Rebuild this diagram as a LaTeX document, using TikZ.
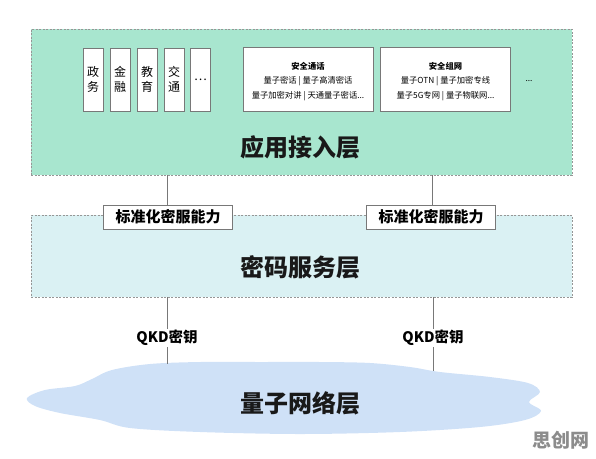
\documentclass[tikz,border=0pt]{standalone}
\usepackage{fontspec}
\setmainfont{Noto Sans CJK SC}
\definecolor{appgreen}{RGB}{168,230,207}
\definecolor{svcblue}{RGB}{218,241,243}
\definecolor{cloudblue}{RGB}{207,225,247}
\definecolor{edgegray}{RGB}{150,150,150}
\definecolor{linegray}{RGB}{120,120,120}
\begin{document}
\begin{tikzpicture}[x=1pt,y=-1pt,
  layer/.style={draw=edgegray, dash pattern=on 2pt off 1.5pt, line width=0.5pt, minimum width=541pt, inner sep=0pt},
  title/.style={font=\fontsize{24}{26}\selectfont\bfseries, text=black!90},
  vbox/.style={draw=linegray, fill=white, line width=0.6pt, minimum width=20pt, minimum height=63pt, inner sep=0pt, font=\fontsize{12}{15}\selectfont, align=center},
  sbox/.style={draw=linegray, fill=white, line width=0.6pt, minimum width=130pt, minimum height=64pt, inner sep=0pt},
  small/.style={font=\fontsize{8.3}{10}\selectfont, inner sep=0pt},
  smallb/.style={font=\fontsize{8.3}{10}\selectfont\bfseries, inner sep=0pt},
  lab/.style={draw=linegray, fill=white, line width=0.6pt, minimum width=129pt, minimum height=24pt, inner sep=0pt, font=\fontsize{15}{17}\selectfont\bfseries},
  qkd/.style={fill=white, inner sep=1pt, font=\fontsize{14.5}{16}\selectfont\bfseries},
  conn/.style={draw=linegray, line width=0.8pt}]
\useasboundingbox (0,0) rectangle (596,458);
% layers
\node[layer, fill=appgreen, minimum height=146pt] (app) at (301.5,102) {};
\node[layer, fill=svcblue, minimum height=82pt] (svc) at (301.5,256) {};
% cloud
\fill[cloudblue] plot[smooth cycle, tension=0.55] coordinates {
 (27,398) (45,390) (75,386) (92,379) (112,370) (150,364) (200,362) (260,362)
 (320,362) (370,363) (410,367) (440,372) (490,377) (528,383) (540,392)
 (529,402) (541,411) (525,420) (480,427) (400,432) (300,434) (200,432)
 (130,428) (100,420) (60,413) (35,406)};
\coordinate (c1) at (167,364);
\coordinate (c2) at (433,371);
% small vertical boxes
\node[vbox] (v1) at (93,79.5) {政\\务};
\node[vbox] (v2) at (120,79.5) {金\\融};
\node[vbox] (v3) at (147,79.5) {教\\育};
\node[vbox] (v4) at (174,79.5) {交\\通};
\node[vbox] (v5) at (200.5,79.5) {…};
% service boxes
\node[sbox] (s1) at (308,79) {};
\node[smallb] (s1t) at (308,66) {安全通话};
\node[small] (s1a) at (308,81.5) {量子密话 | 量子高清密话};
\node[small] (s1b) at (308,96) {量子加密对讲 | 天通量子密话...};
\node[sbox] (s2) at (445.5,79) {};
\node[smallb] (s2t) at (445.5,66) {安全组网};
\node[small] (s2a) at (445.5,81.5) {量子OTN | 量子加密专线};
\node[small] (s2b) at (445.5,96) {量子5G专网 | 量子物联网...};
\node[small] (s3) at (529,81) {...};
% titles
\node[title] (t1) at (300,147) {应用接入层};
\node[title] (t2) at (300,267) {密码服务层};
\node[title] (t3) at (300,403) {量子网络层};
% labels and connectors
\node[lab] (l1) at (168,217) {标准化密服能力};
\node[lab] (l2) at (431,217) {标准化密服能力};
\draw[conn] (app.south -| 167,0) -- (l1.north -| 167,0);
\draw[conn] (app.south -| 432,0) -- (l2.north -| 432,0);
\node[qkd] (q1) at (167,338) {QKD密钥};
\node[qkd] (q2) at (433,338) {QKD密钥};
\draw[conn] (svc.south -| q1) -- (q1.north);
\draw[conn] (q1.south) -- (c1);
\draw[conn] (svc.south -| q2) -- (q2.north);
\draw[conn] (q2.south) -- (c2);
% watermark
\node[font=\fontsize{19}{20}\selectfont\bfseries, text=black!45] (wm) at (561,440) {思创网};
\end{tikzpicture}
\end{document}
